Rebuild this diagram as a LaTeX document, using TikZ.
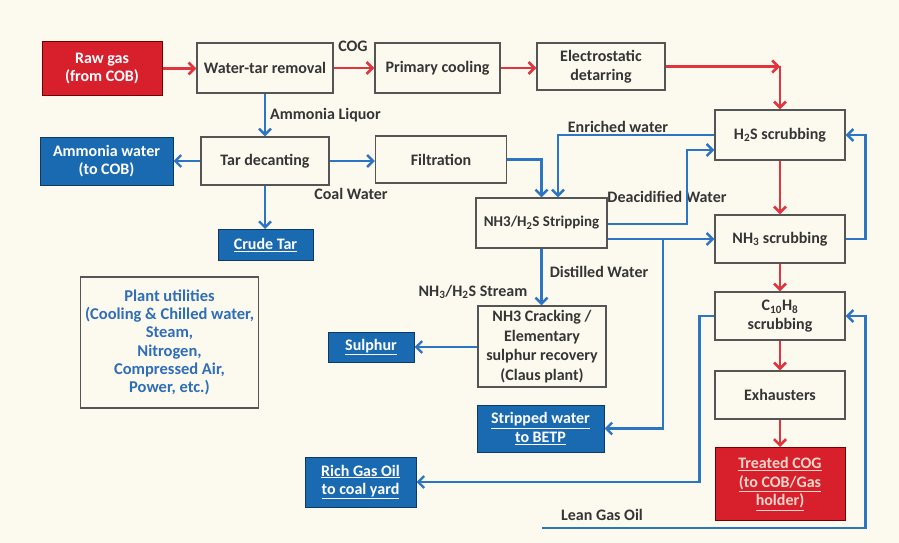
\documentclass[tikz,border=0pt]{standalone}
\usepackage{fontspec}
\setmainfont{Carlito}
\usetikzlibrary{arrows.meta,calc}
\definecolor{paper}{HTML}{FCF9EF}
\definecolor{redf}{HTML}{D81F2C}
\definecolor{bluef}{HTML}{1A6AB2}
\definecolor{bluel}{HTML}{2C74C4}
\definecolor{redl}{HTML}{E0343E}
\definecolor{txt}{HTML}{353535}
\definecolor{edgec}{HTML}{555555}
\definecolor{utxt}{HTML}{2F6EB8}
\definecolor{tcog}{HTML}{F8D6CC}
\newcommand{\sbs}[1]{\textsubscript{#1}}
\begin{document}
\begin{tikzpicture}[x=1pt,y=-1pt,
  every node/.style={font=\bfseries\fontsize{16}{18.5}\selectfont, text=txt, align=center, inner sep=1pt},
  box/.style={draw=edgec, line width=1.3pt, fill=paper},
  redbox/.style={draw=red!45!black, line width=1pt, fill=redf, text=white},
  bluebox/.style={draw=bluef!55!black, line width=1pt, fill=bluef, text=white},
  rl/.style={draw=redl, line width=2.6pt, -{Straight Barb[length=6pt,width=12pt]}},
  bl/.style={draw=bluel, line width=2.4pt, -{Straight Barb[length=6pt,width=12pt]}},
  lbl/.style={text=txt, inner sep=1pt}]
\useasboundingbox (0,0) rectangle (899,543);
\fill[paper] (0,0) rectangle (899,543);

% top row
\node[redbox, minimum width=120, minimum height=53] (raw) at (102,68.5) {Raw gas\\(from COB)};
\node[box, minimum width=136, minimum height=50] (wtr) at (265,68) {Water-tar removal};
\node[box, minimum width=125, minimum height=50] (pc) at (437.5,68) {Primary cooling};
\node[box, minimum width=128, minimum height=47] (ed) at (601,66.5) {Electrostatic\\detarring};

% right column
\node[box, minimum width=130, minimum height=50] (h2s) at (780,135) {H\sbs{2}S scrubbing};
\node[box, minimum width=130, minimum height=48] (nh3s) at (780,239) {NH\sbs{3} scrubbing};
\node[box, minimum width=130, minimum height=48] (c10) at (780,316) {C\sbs{10}H\sbs{8}\\scrubbing};
\node[box, minimum width=130, minimum height=48] (exh) at (780,395) {Exhausters};
\node[redbox, minimum width=130, minimum height=73, text=tcog] (tcg) at (780,484) {\underline{Treated COG}\\\underline{(to COB/Gas}\\\underline{holder)}};

% second row
\node[bluebox, minimum width=133, minimum height=48] (amw) at (106.5,161) {Ammonia water\\(to COB)};
\node[box, minimum width=128, minimum height=48] (tard) at (265,161) {Tar decanting};
\node[box, minimum width=131, minimum height=47] (filt) at (441,159.5) {Filtration};
\node[bluebox, minimum width=95, minimum height=31] (crude) at (265.5,245) {\underline{Crude Tar}};
\node[box, minimum width=131, minimum height=50, font=\bfseries\fontsize{15}{18}\selectfont] (strip) at (541.5,223) {NH3/H\sbs{2}S Stripping};

% lower part
\node[box, minimum width=178, minimum height=131, text=utxt, font=\bfseries\fontsize{16.5}{18.3}\selectfont] (util) at (169.5,342.5) {Plant utilities\\(Cooling \& Chilled water,\\Steam,\\Nitrogen,\\Compressed Air,\\Power, etc.)};
\node[bluebox, minimum width=86, minimum height=30] (sulph) at (371,347) {\underline{Sulphur}};
\node[box, minimum width=128, minimum height=81, font=\bfseries\fontsize{16}{19.5}\selectfont] (crack) at (542,346.5) {NH3 Cracking /\\Elementary\\sulphur recovery\\(Claus plant)};
\node[bluebox, minimum width=127, minimum height=47] (betp) at (540.5,428.5) {\underline{Stripped water}\\\underline{to BETP}};
\node[bluebox, minimum width=111, minimum height=50] (rgo) at (360.5,482) {\underline{Rich Gas Oil}\\\underline{to coal yard}};

% labels
\node[lbl] (lcog) at (353,46) {COG};
\node[lbl] (lcw) at (351,194) {Coal Water};
\node[lbl] (lew) at (618,127) {Enriched water};
\node[lbl] (ldw) at (667,197) {Deacidified Water};
\node[lbl] (ldist) at (599,272) {Distilled Water};
\node[lbl] (lstream) at (473,292) {NH\sbs{3}/H\sbs{2}S Stream};
\node[lbl] (llgo) at (602,515) {Lean Gas Oil};

% coordinates
\coordinate (dcorner) at (687,150);
\coordinate (br) at (663,239);
\coordinate (lg) at (542,528);

% red gas path
\draw[rl] (raw.east) -- (raw.east -| wtr.west);
\draw[rl] (wtr.east) -- (wtr.east -| pc.west);
\draw[rl] (pc.east) -- (pc.east -| ed.west);
\draw[rl] (ed.east) -- (ed.east -| h2s.north);
\draw[rl] (ed.east -| h2s.north) -- (h2s.north);
\draw[rl] (h2s.south) -- (nh3s.north);
\draw[rl] (nh3s.south) -- (c10.north);
\draw[rl] (c10.south) -- (exh.north);
\draw[rl] (exh.south) -- (tcg.north);

% blue water path
\draw[bl] (wtr.south) -- (tard.north) node[midway, right, lbl, xshift=3pt] (lal) {Ammonia Liquor};
\draw[bl] (tard.west) -- (amw.east);
\draw[bl] (tard.east) -- (tard.east -| filt.west);
\draw[bl] (tard.south) -- (crude.north -| tard.south);
\draw[bl] (filt.east) -| (strip.north);
\draw[bl] (h2s.west) -| ([xshift=16.5pt]strip.north);
\draw[bl] (strip.east |- 0,224) -| (dcorner) -- (dcorner -| h2s.west);
\draw[bl] (strip.east |- br) -- (nh3s.west);
\draw[bl] (br) |- (betp.east);
\draw[bl] (nh3s.east) -- ++(20,0) |- (h2s.east);
\draw[bl] (strip.south) -- (strip.south |- crack.north);
\draw[bl] (crack.west |- sulph.east) -- (sulph.east);
\draw[bl] (c10.west) -- ++(-15,0) |- (rgo.east);
\draw[bl] (lg) -| ([xshift=20pt]c10.east) -- (c10.east);
\end{tikzpicture}
\end{document}
